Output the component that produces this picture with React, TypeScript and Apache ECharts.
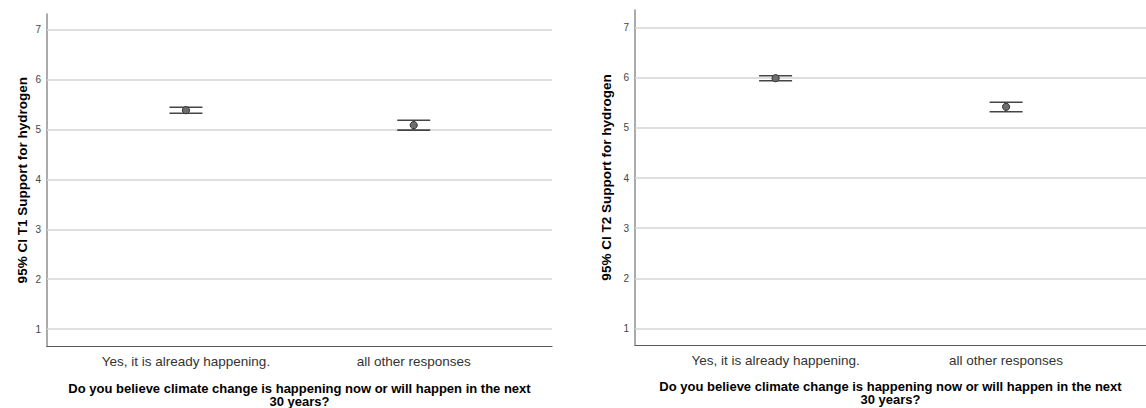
import React, { useEffect, useRef } from "react";
import * as echarts from "echarts";

const categories = ["Yes, it is already happening.", "all other responses"];
const catPositions = [1, 2];
const t1Mean = [5.39, 5.09];
const t1Lower = [5.33, 4.99];
const t1Upper = [5.45, 5.19];
const t2Mean = [5.99, 5.42];
const t2Lower = [5.94, 5.32];
const t2Upper = [6.04, 5.51];
const yTicks = [1, 2, 3, 4, 5, 6, 7];
const xTitle = "Do you believe climate change is happening now or will happen in the next\n30 years?";
const yTitles = ["95% CI T1 Support for hydrogen", "95% CI T2 Support for hydrogen"];

const FONT = "'Liberation Sans', Arial, sans-serif";

function renderErrorBar(params: any, api: any) {
  const x = api.value(0);
  const m = api.coord([x, api.value(1)]);
  const lo = api.coord([x, api.value(2)]);
  const hi = api.coord([x, api.value(3)]);
  const hw = 16.5;
  const stroke = { stroke: "#454545", lineWidth: 1.6 };
  return {
    type: "group",
    children: [
      { type: "line", shape: { x1: m[0], y1: hi[1], x2: m[0], y2: lo[1] }, style: stroke },
      { type: "line", shape: { x1: m[0] - hw, y1: hi[1], x2: m[0] + hw, y2: hi[1] }, style: stroke },
      { type: "line", shape: { x1: m[0] - hw, y1: lo[1], x2: m[0] + hw, y2: lo[1] }, style: stroke },
      { type: "circle", shape: { cx: m[0], cy: m[1], r: 3.6 }, style: { fill: "#6e6e6e", stroke: "#333", lineWidth: 1 } },
    ],
  };
}

export default function App() {
  const ref = useRef<HTMLDivElement>(null);
  useEffect(() => {
    document.body.style.margin = "0";
    const chart = echarts.init(ref.current!, null, { renderer: "svg" });
    const grids = [
      { left: 47, top: 14, width: 505, height: 332.5, outerBoundsMode: "none", containLabel: false },
      { left: 635, top: 10, width: 511, height: 335, outerBoundsMode: "none", containLabel: false },
    ];
    const yRanges = [
      [0.65, 7.32],
      [0.67, 7.35],
    ];
    const yNameGaps = [18, 22];
    const means = [t1Mean, t2Mean];
    const lowers = [t1Lower, t2Lower];
    const uppers = [t1Upper, t2Upper];
    const option: any = {
      animation: false,
      grid: grids,
      xAxis: grids.map((_, i) => ({
        type: "value",
        gridIndex: i,
        min: 0.39,
        max: 2.607,
        axisLine: { show: true, lineStyle: { color: "#5a5a5a", width: 1.2 } },
        axisTick: { show: false },
        splitLine: { show: false },
        axisLabel: {
          customValues: catPositions,
          formatter: (v: number) => categories[Math.round(v) - 1] ?? "",
          color: "#333",
          fontSize: 13.5,
          fontFamily: FONT,
          margin: 8,
        },
        name: xTitle,
        nameLocation: "middle",
        nameGap: 35,
        nameTextStyle: { fontSize: 13, fontWeight: "bold", color: "#000", fontFamily: FONT, lineHeight: 13 },
      })),
      yAxis: grids.map((_, i) => ({
        type: "value",
        gridIndex: i,
        min: yRanges[i][0],
        max: yRanges[i][1],
        axisLine: { show: true, lineStyle: { color: "#8f8f8f", width: 1.5 } },
        axisTick: { show: false },
        splitLine: { show: false },
        axisLabel: {
          customValues: yTicks,
          formatter: (v: number) => String(v),
          color: "#444",
          fontSize: 10,
          fontFamily: FONT,
          margin: 6,
        },
        name: yTitles[i],
        nameLocation: "middle",
        nameRotate: 90,
        nameGap: yNameGaps[i],
        nameTextStyle: { fontSize: 13.5, fontWeight: "bold", color: "#000", fontFamily: FONT },
      })),
      series: [0, 1].flatMap((i) => [
        {
          type: "line",
          xAxisIndex: i,
          yAxisIndex: i,
          data: [],
          silent: true,
          markLine: {
            silent: true,
            symbol: "none",
            label: { show: false },
            lineStyle: { color: "#d4d4d4", type: "solid", width: 1.5 },
            data: yTicks.map((v) => ({ yAxis: v })),
          },
        },
        {
          type: "custom",
          xAxisIndex: i,
          yAxisIndex: i,
          renderItem: renderErrorBar,
          z: 5,
          data: catPositions.map((x, k) => [x, means[i][k], lowers[i][k], uppers[i][k]]),
        },
      ]),
    };
    chart.setOption(option);
    return () => chart.dispose();
  }, []);
  return <div ref={ref} style={{ width: 1146, height: 408 }} />;
}
